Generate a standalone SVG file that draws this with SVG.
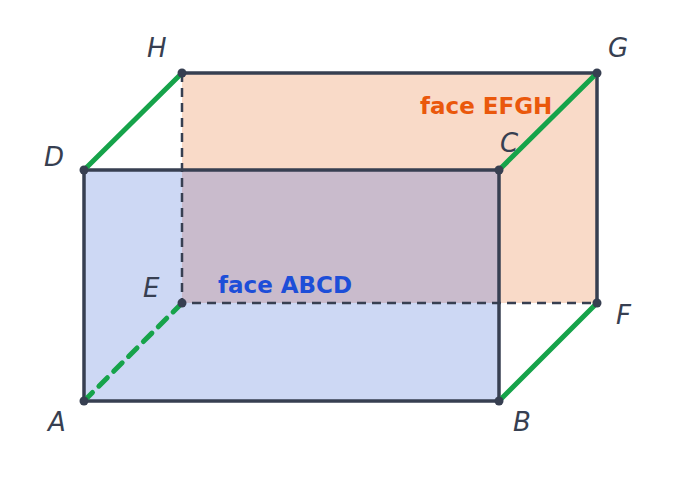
<svg xmlns="http://www.w3.org/2000/svg" width="681" height="485" viewBox="0 0 681 485">
<style>
.e{stroke:#373f51;stroke-width:3.5;fill:none;stroke-linecap:round}
.d{stroke:#373f51;stroke-width:2.5;fill:none;stroke-dasharray:9,6}
.g{stroke:#16a34a;stroke-width:5;fill:none;stroke-linecap:round}
.p{fill:#373f51}
.l{font-family:"DejaVu Sans",sans-serif;font-style:italic;font-size:26px;fill:#373f51}
.f{font-family:"DejaVu Sans",sans-serif;font-weight:bold;font-size:23px}
</style>
<rect width="681" height="485" fill="#fff"/>
<g id="faceEFGH"><rect x="182" y="73" width="415" height="230" fill="#f9dac8"/><text class="f" x="420" y="114" fill="#ea580c">face EFGH</text></g>
<g id="faceABCD"><rect x="84" y="170" width="415" height="231" fill="#cdd8f4"/><rect x="182" y="170" width="317" height="133" fill="#c9bbcc"/><text class="f" x="218" y="293" fill="#1d4ed8">face ABCD</text></g>
<g id="connectors">
<path class="d" d="M182 73V303H597"/>
<path class="e" d="M182 73H597V303M84 170H499V401H84Z"/>
<path class="g" d="M84 170L182 73M499 170L597 73M499 401L597 303"/>
<path class="g" d="M84 401L182 303" stroke-dasharray="12,9" stroke-linecap="butt"/>
</g>
<g id="points">
<circle class="p" cx="84" cy="401" r="4.5"/><circle class="p" cx="499" cy="401" r="4.5"/><circle class="p" cx="499" cy="170" r="4.5"/><circle class="p" cx="84" cy="170" r="4.5"/>
<circle class="p" cx="182" cy="303" r="4.5"/><circle class="p" cx="597" cy="303" r="4.5"/><circle class="p" cx="597" cy="73" r="4.5"/><circle class="p" cx="182" cy="73" r="4.5"/>
</g>
<g id="labels">
<text class="l" x="48" y="431">A</text><text class="l" x="513" y="431">B</text><text class="l" x="500" y="152">C</text><text class="l" x="44" y="166">D</text>
<text class="l" x="143" y="297">E</text><text class="l" x="616" y="324">F</text><text class="l" x="608" y="57">G</text><text class="l" x="147" y="57">H</text>
</g>
</svg>
